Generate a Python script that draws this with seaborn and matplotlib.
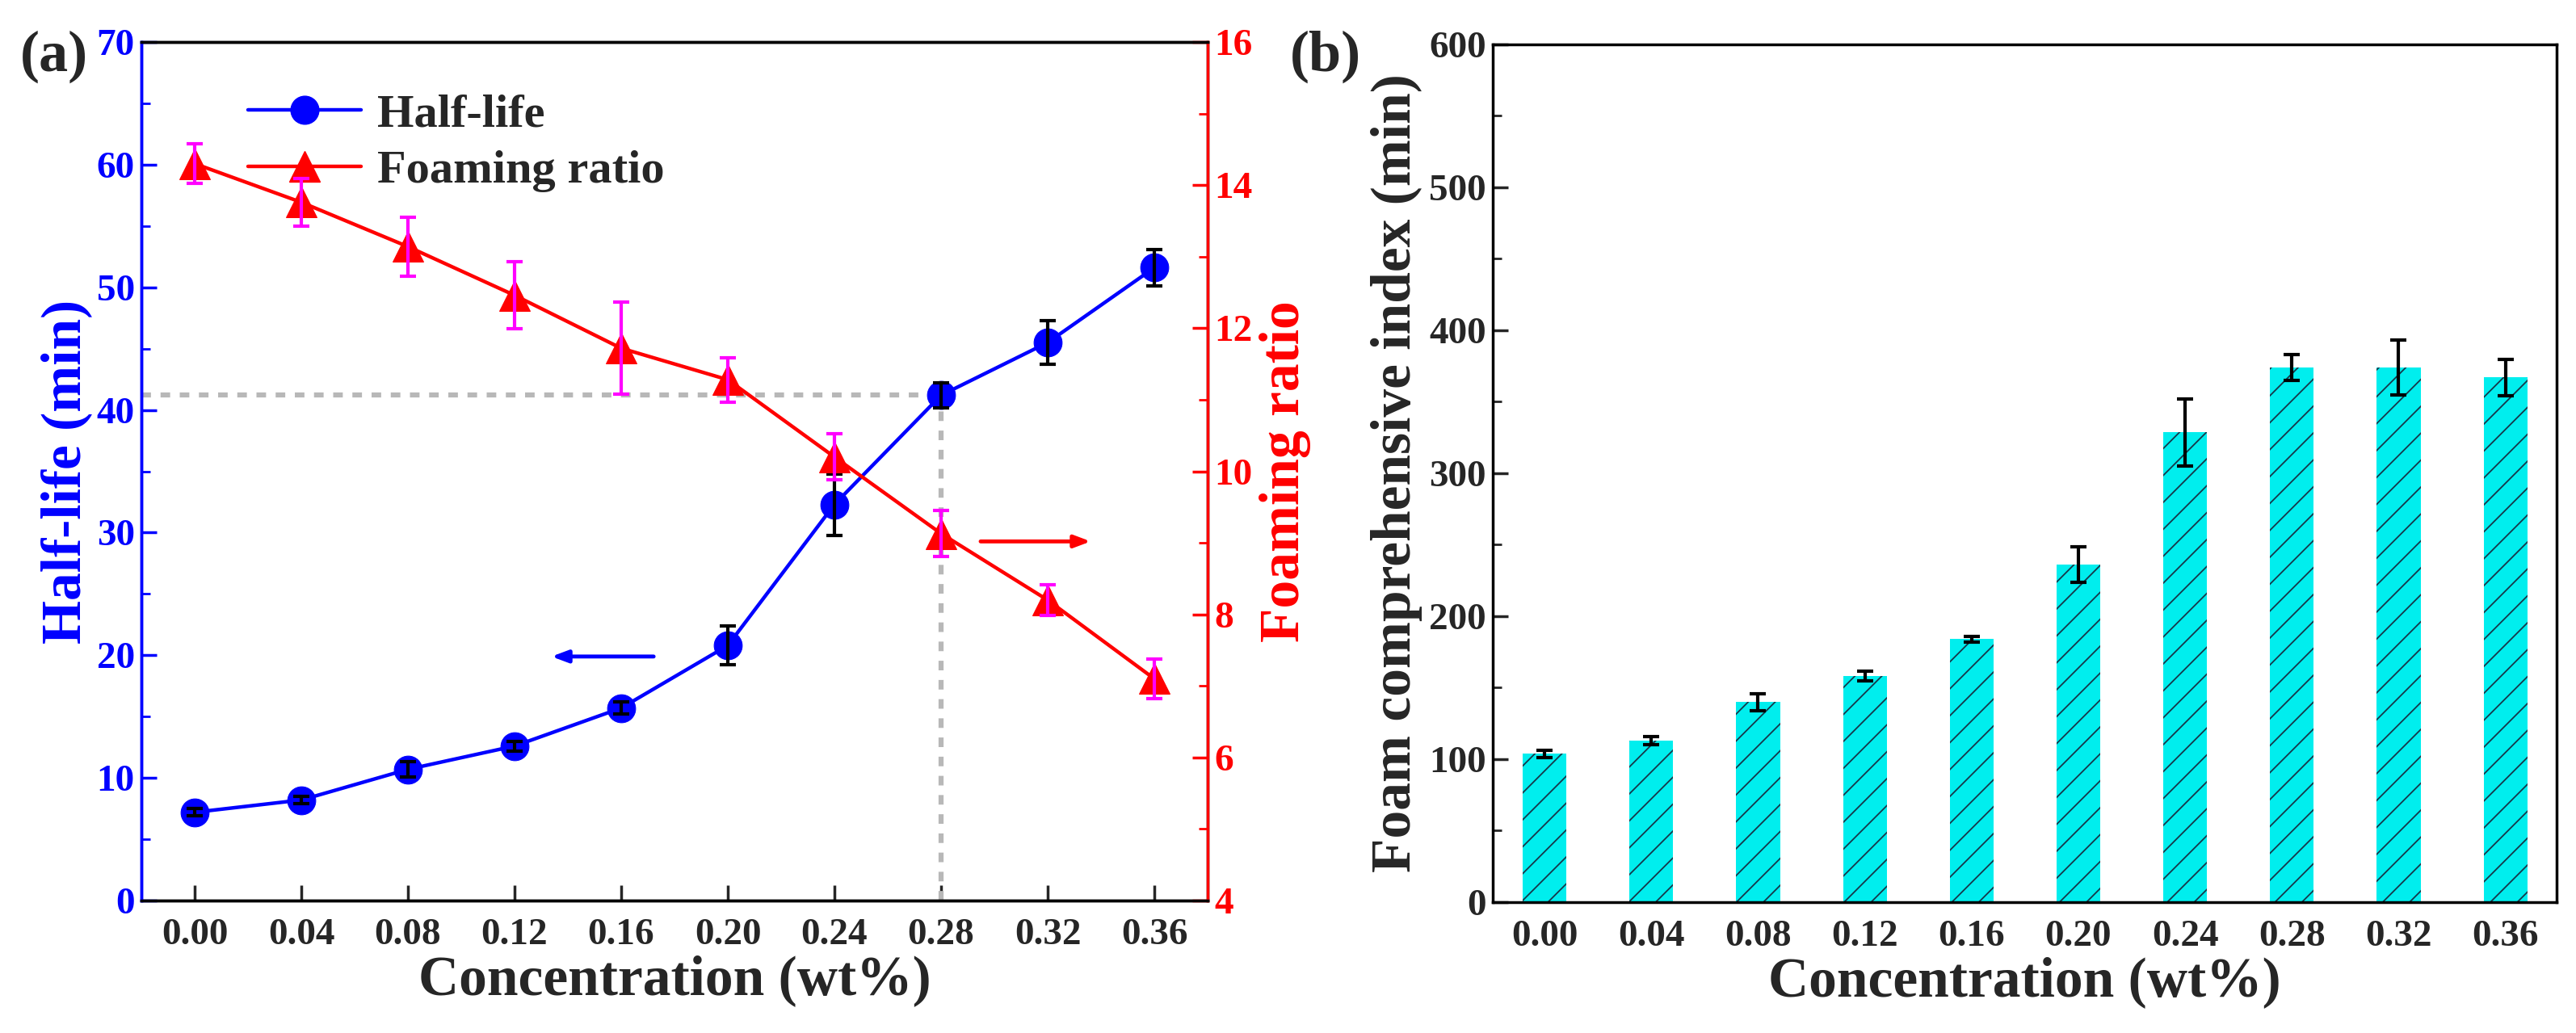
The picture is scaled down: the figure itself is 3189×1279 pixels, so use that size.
import matplotlib
matplotlib.use("Agg")
import matplotlib.pyplot as plt
import seaborn as sns
import pandas as pd
from matplotlib.ticker import MultipleLocator
from matplotlib.lines import Line2D

sns.set_style("white")
plt.rcParams["font.family"] = ["Liberation Serif", "DejaVu Serif"]
plt.rcParams["font.weight"] = "bold"
plt.rcParams["axes.labelweight"] = "bold"
plt.rcParams["hatch.linewidth"] = 1.3

# data
conc = [0.00, 0.04, 0.08, 0.12, 0.16, 0.20, 0.24, 0.28, 0.32, 0.36]
conc_labels = ["0.00", "0.04", "0.08", "0.12", "0.16", "0.20", "0.24", "0.28", "0.32", "0.36"]
half_life = [7.2, 8.2, 10.7, 12.6, 15.7, 20.8, 32.3, 41.2, 45.5, 51.6]
half_life_err = [0.3, 0.3, 0.6, 0.4, 0.5, 1.6, 2.5, 1.0, 1.8, 1.5]
foam_ratio = [14.3, 13.76, 13.14, 12.46, 11.72, 11.28, 10.2, 9.13, 8.2, 7.1]
foam_ratio_err = [0.28, 0.33, 0.41, 0.47, 0.64, 0.31, 0.32, 0.32, 0.21, 0.28]
fci = [103.7, 113, 140, 158, 184, 236, 328.6, 374, 374, 367]
fci_err = [2.5, 3, 6, 3.5, 2, 12.5, 23.5, 9, 19, 12.5]

df = pd.DataFrame({"conc": conc, "label": conc_labels, "half": half_life,
                   "foam": foam_ratio, "fci": fci})

BLUE = "#0000ff"
RED = "#ff0000"
TICK_FS = 34
LABEL_FS = 50

fig = plt.figure(figsize=(31.89, 12.79), dpi=100)

# ---------- panel (a) ----------
ax1 = fig.add_axes([0.0549, 0.1282, 0.4139, 0.8311])
ax2 = ax1.twinx()

sns.lineplot(data=df, x="conc", y="half", ax=ax1, color=BLUE, lw=3.2,
             marker="o", markersize=25, markeredgecolor=BLUE, legend=False)
ax1.errorbar(conc, half_life, yerr=half_life_err, fmt="none", ecolor="black",
             elinewidth=3, capsize=7, capthick=3, zorder=5)

sns.lineplot(data=df, x="conc", y="foam", ax=ax2, color=RED, lw=3.2,
             marker="^", markersize=27, markeredgecolor=RED, legend=False)
ax2.errorbar(conc, foam_ratio, yerr=foam_ratio_err, fmt="none", ecolor="#ff00ff",
             elinewidth=3, capsize=7, capthick=3, zorder=5)

# guide lines at 0.28 wt%
guide = dict(color="#b8b8b8", lw=4.5, ls=(0, (1.9, 1.9)), zorder=1)
ax1.plot([-0.02, 0.28], [half_life[7], half_life[7]], **guide)
ax1.plot([0.28, 0.28], [0, half_life[7]], **guide)

# arrows
ax1.annotate("", xy=(0.133, 19.9), xytext=(0.173, 19.9),
             arrowprops=dict(arrowstyle="-|>,head_length=1.2,head_width=0.45",
                             color=BLUE, lw=3.5))
ax2.annotate("", xy=(0.337, 9.02), xytext=(0.294, 9.02),
             arrowprops=dict(arrowstyle="-|>,head_length=1.2,head_width=0.45",
                             color=RED, lw=3.5))

ax1.set_xlim(-0.02, 0.38)
ax1.set_ylim(0, 70)
ax2.set_ylim(4, 16)
ax1.set_xticks(conc)
ax1.set_xticklabels(conc_labels)
ax1.yaxis.set_major_locator(MultipleLocator(10))
ax1.yaxis.set_minor_locator(MultipleLocator(5))
ax2.yaxis.set_major_locator(MultipleLocator(2))
ax2.yaxis.set_minor_locator(MultipleLocator(1))

ax1.set_xlabel("Concentration (wt%)", fontsize=LABEL_FS, labelpad=2)
ax1.set_ylabel("Half-life (min)", fontsize=LABEL_FS, color=BLUE, labelpad=4)
ax2.set_ylabel("Foaming ratio", fontsize=LABEL_FS, color=RED, labelpad=6)

ax1.tick_params(axis="x", direction="in", length=14, width=2.5, labelsize=TICK_FS,
                pad=16, bottom=True)
ax1.tick_params(axis="y", which="major", direction="in", length=14, width=2.5,
                labelsize=TICK_FS, colors=BLUE, left=True, pad=6)
ax1.tick_params(axis="y", which="minor", direction="in", length=8, width=2,
                colors=BLUE, left=True)
ax2.tick_params(axis="y", which="major", direction="in", length=14, width=2.5,
                labelsize=TICK_FS, colors=RED, right=True, pad=6)
ax2.tick_params(axis="y", which="minor", direction="in", length=8, width=2,
                colors=RED, right=True)
for lab in ax1.get_xticklabels() + ax1.get_yticklabels() + ax2.get_yticklabels():
    lab.set_fontweight("bold")

for ax in (ax1, ax2):
    for s in ax.spines.values():
        s.set_linewidth(2.5)
        s.set_color("black")
ax2.spines["left"].set_color(BLUE)
ax2.spines["right"].set_color(RED)
ax1.spines["left"].set_color(BLUE)

handles = [
    Line2D([], [], color=BLUE, lw=3.2, marker="o", markersize=25, markeredgecolor=BLUE),
    Line2D([], [], color=RED, lw=3.2, marker="^", markersize=27, markeredgecolor=RED),
]
ax1.legend(handles, ["Half-life", "Foaming ratio"], loc="upper left",
           bbox_to_anchor=(0.06, 0.99), frameon=False, handlelength=2.4,
           labelspacing=0.3, handletextpad=0.35, prop={"weight": "bold", "size": 42})

fig.text(0.021, 0.945, "(a)", fontsize=52, fontweight="bold", ha="center", va="center")

# ---------- panel (b) ----------
ax3 = fig.add_axes([0.5795, 0.1267, 0.4130, 0.8303])
sns.barplot(data=df, x="label", y="fci", ax=ax3, color="#00eeee", width=0.41,
            errorbar=None, saturation=1, edgecolor="none")
for p in ax3.patches:
    p.set_hatch("/")
    p.set_edgecolor("#16384a")
    p.set_linewidth(0)
ax3.errorbar(range(len(fci)), fci, yerr=fci_err, fmt="none", ecolor="black",
             elinewidth=3, capsize=7, capthick=3, zorder=5)

ax3.set_xlim(-0.485, 9.48)
ax3.set_ylim(0, 600)
ax3.yaxis.set_major_locator(MultipleLocator(100))
ax3.yaxis.set_minor_locator(MultipleLocator(50))
ax3.set_xlabel("Concentration (wt%)", fontsize=LABEL_FS, labelpad=2)
ax3.set_ylabel("Foam comprehensive index (min)", fontsize=LABEL_FS, labelpad=6)
ax3.tick_params(axis="x", direction="in", length=14, width=2.5, labelsize=TICK_FS,
                pad=16, bottom=True)
ax3.tick_params(axis="y", which="major", direction="in", length=14, width=2.5,
                labelsize=TICK_FS, left=True, pad=6)
ax3.tick_params(axis="y", which="minor", direction="in", length=8, width=2, left=True)
for lab in ax3.get_xticklabels() + ax3.get_yticklabels():
    lab.set_fontweight("bold")
for s in ax3.spines.values():
    s.set_linewidth(2.5)
    s.set_color("black")

fig.text(0.5145, 0.945, "(b)", fontsize=52, fontweight="bold", ha="center", va="center")

fig.savefig("out.png", dpi=100)
